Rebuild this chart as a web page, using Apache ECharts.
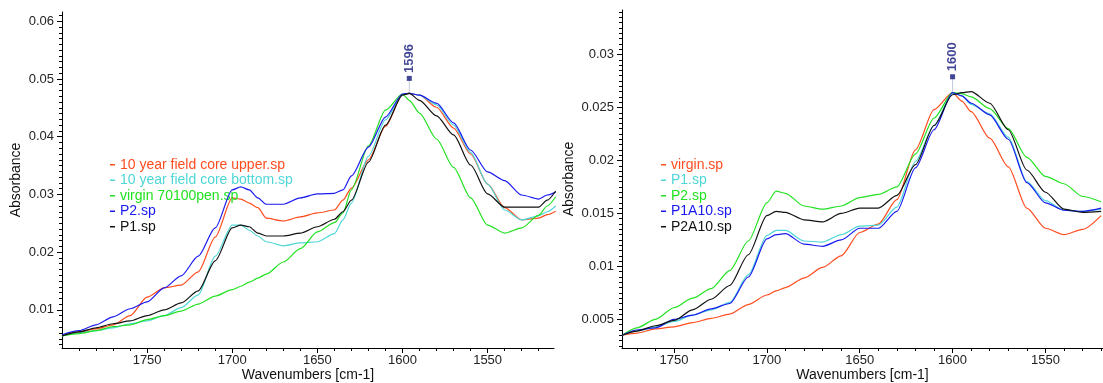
<!DOCTYPE html>
<html>
<head>
<meta charset="utf-8">
<script src="https://cdn.jsdelivr.net/npm/echarts@6/dist/echarts.min.js"></script>
<style>
html,body{margin:0;padding:0;background:#fff;}
#chart{width:1103px;height:383px;}
</style>
</head>
<body>
<div id="chart"></div>
<script>
// ---------- Left panel data ----------
const leftX = [1800,1790,1780,1770,1760,1750,1740,1730,1720,1710,1700,1695,1690,1685,1680,1670,1660,1650,1640,1635,1630,1620,1610,1600,1596,1590,1580,1570,1560,1550,1540,1530,1520,1515,1510];
const leftNames = ['10 year field core upper.sp','10 year field core bottom.sp','virgin 70100pen.sp','P2.sp','P1.sp'];
const leftUpper  = [0.0055,0.0062,0.0067,0.0074,0.0090,0.0122,0.0138,0.0143,0.0166,0.0226,0.0294,0.0292,0.0285,0.0277,0.0259,0.0254,0.0261,0.0268,0.0273,0.0290,0.0311,0.0360,0.0418,0.0473,0.0475,0.0472,0.0451,0.0415,0.0370,0.0318,0.0277,0.0256,0.0259,0.0265,0.0271];
const leftBottom = [0.0055,0.0060,0.0064,0.0069,0.0076,0.0081,0.0090,0.0104,0.0126,0.0193,0.0247,0.0247,0.0238,0.0228,0.0218,0.0211,0.0216,0.0218,0.0232,0.0256,0.0285,0.0366,0.0429,0.0473,0.0475,0.0472,0.0455,0.0420,0.0373,0.0318,0.0273,0.0256,0.0263,0.0270,0.0280];
const leftVirgin = [0.0055,0.0059,0.0064,0.0071,0.0074,0.0083,0.0090,0.0098,0.0110,0.0124,0.0135,0.0141,0.0148,0.0155,0.0162,0.0183,0.0206,0.0235,0.0251,0.0268,0.0308,0.0384,0.0446,0.0474,0.0463,0.0441,0.0396,0.0347,0.0294,0.0247,0.0233,0.0242,0.0264,0.0280,0.0296];
const leftP2     = [0.0057,0.0064,0.0074,0.0088,0.0102,0.0114,0.0138,0.0159,0.0193,0.0242,0.0308,0.0313,0.0308,0.0294,0.0283,0.0283,0.0294,0.0301,0.0302,0.0308,0.0332,0.0382,0.0434,0.0474,0.0475,0.0472,0.0458,0.0424,0.0377,0.0339,0.0324,0.0299,0.0292,0.0299,0.0304];
const leftP1     = [0.0055,0.0062,0.0069,0.0076,0.0081,0.0090,0.0100,0.0112,0.0133,0.0185,0.0242,0.0247,0.0244,0.0233,0.0228,0.0228,0.0233,0.0244,0.0257,0.0270,0.0290,0.0356,0.0420,0.0472,0.0475,0.0463,0.0436,0.0403,0.0351,0.0301,0.0278,0.0278,0.0278,0.0290,0.0306];
const leftPeak = {label:'1596', x:1596, y:0.0475, mark:0.0501};
const leftYTicks = [0.01,0.02,0.03,0.04,0.05,0.06];
const leftXTicks = [1750,1700,1650,1600,1550];

// ---------- Right panel data ----------
const rightX = [1778,1770,1760,1750,1740,1730,1720,1710,1700,1695,1690,1680,1670,1660,1650,1640,1630,1620,1610,1600,1595,1590,1580,1570,1560,1550,1540,1530,1520];
const rightNames = ['virgin.sp','P1.sp','P2.sp','P1A10.sp','P2A10.sp'];
const rightVirgin = [0.0035,0.0037,0.0041,0.0043,0.0047,0.0051,0.0055,0.0064,0.0073,0.0077,0.0080,0.0089,0.0099,0.0110,0.0132,0.0140,0.0163,0.0210,0.0248,0.0264,0.0256,0.0246,0.0221,0.0194,0.0155,0.0136,0.0130,0.0135,0.0148];
const rightP1     = [0.0035,0.0039,0.0043,0.0048,0.0054,0.0059,0.0066,0.0092,0.0129,0.0134,0.0134,0.0124,0.0123,0.0130,0.0138,0.0139,0.0156,0.0199,0.0233,0.0264,0.0261,0.0253,0.0244,0.0222,0.0180,0.0162,0.0153,0.0152,0.0154];
const rightP2     = [0.0035,0.0042,0.0050,0.0061,0.0070,0.0079,0.0096,0.0124,0.0160,0.0171,0.0169,0.0157,0.0154,0.0157,0.0165,0.0168,0.0175,0.0206,0.0240,0.0264,0.0263,0.0260,0.0249,0.0230,0.0203,0.0185,0.0178,0.0166,0.0161];
const rightP1A10  = [0.0035,0.0040,0.0042,0.0050,0.0054,0.0060,0.0065,0.0090,0.0126,0.0130,0.0131,0.0121,0.0119,0.0125,0.0136,0.0136,0.0152,0.0193,0.0229,0.0264,0.0261,0.0254,0.0243,0.0220,0.0179,0.0160,0.0153,0.0152,0.0155];
const rightP2A10  = [0.0035,0.0039,0.0044,0.0049,0.0059,0.0069,0.0082,0.0111,0.0148,0.0152,0.0151,0.0144,0.0142,0.0150,0.0155,0.0155,0.0167,0.0196,0.0233,0.0262,0.0264,0.0265,0.0254,0.0229,0.0191,0.0170,0.0154,0.0151,0.0152];
const rightPeak = {label:'1600', x:1600, y:0.0264, mark:0.0279};
const rightYTicks = [0.005,0.01,0.015,0.02,0.025,0.03];
const rightXTicks = [1750,1700,1650,1600,1550];

// ---------- styling ----------
const FONT = 'Liberation Sans, Arial, sans-serif';
const leftColors  = ['#ff4d1f','#4fd6d6','#22e222','#1a1af0','#111111'];
const rightColors = ['#ff4d1f','#4fd6d6','#22e222','#1a1af0','#111111'];
const NAVY = '#14197a';

function zip(xs, ys){ return xs.map((x,i)=>[x, ys[i]]); }
function range(a, b, step, scale){ const out=[]; for(let i=a;i<=b;i+=step){ out.push(Math.round(i)/scale); } return out; }

const leftMinorX = range(1520,1790,10,1);
const rightMinorX = range(1520,1770,10,1);
const leftMinorY = range(4,61,1,1000);
const rightMinorY = range(25,340,5,10000);

function mainX(grid, min, max, ticks, name){
  return {type:'value', gridIndex:grid, inverse:true, min:min, max:max, position:'bottom',
    name:name, nameLocation:'middle', nameGap:20, nameMoveOverlap:false,
    nameTextStyle:{fontFamily:FONT,fontSize:14,color:'#111'},
    axisLine:{show:true,onZero:false,lineStyle:{color:'#000',width:1}},
    axisTick:{show:true,customValues:ticks,length:5,lineStyle:{color:'#000'}},
    axisLabel:{show:true,customValues:ticks,fontFamily:FONT,fontSize:13,color:'#222',margin:6,
      formatter:(v)=>String(v)},
    splitLine:{show:false}};
}
function minorX(grid, min, max, ticks){
  return {type:'value', gridIndex:grid, inverse:true, min:min, max:max, position:'bottom',
    axisLine:{show:false}, axisLabel:{show:false}, splitLine:{show:false},
    axisTick:{show:true,customValues:ticks,length:3,lineStyle:{color:'#000'}}};
}
function mainY(grid, min, max, ticks, gap){
  return {type:'value', gridIndex:grid, min:min, max:max, position:'left',
    name:'Absorbance', nameLocation:'middle', nameGap:gap, nameRotate:90, nameMoveOverlap:false,
    nameTextStyle:{fontFamily:FONT,fontSize:14,color:'#111'},
    axisLine:{show:true,onZero:false,lineStyle:{color:'#000',width:1}},
    axisTick:{show:true,customValues:ticks,length:5,lineStyle:{color:'#000'}},
    axisLabel:{show:true,customValues:ticks,fontFamily:FONT,fontSize:13,color:'#222',margin:8,
      formatter:(v)=>String(+v.toFixed(4))},
    splitLine:{show:false}};
}
function minorY(grid, min, max, ticks){
  return {type:'value', gridIndex:grid, min:min, max:max, position:'left',
    axisLine:{show:false}, axisLabel:{show:false}, splitLine:{show:false},
    axisTick:{show:true,customValues:ticks,length:3,lineStyle:{color:'#000'}}};
}

const series = [];
const leftData = [leftUpper,leftBottom,leftVirgin,leftP2,leftP1];
leftData.forEach((d,i)=>{
  series.push({type:'line', name:leftNames[i], xAxisIndex:0, yAxisIndex:0, data:zip(leftX,d),
    symbol:'none', showSymbol:false, smooth:0.25, smoothMonotone:'x',
    lineStyle:{color:leftColors[i],width:1.2}, itemStyle:{color:leftColors[i]}, z:2+i});
});
const rightData = [rightVirgin,rightP1,rightP2,rightP1A10,rightP2A10];
rightData.forEach((d,i)=>{
  series.push({type:'line', name:rightNames[i], xAxisIndex:2, yAxisIndex:2, data:zip(rightX,d),
    symbol:'none', showSymbol:false, smooth:0.25, smoothMonotone:'x',
    lineStyle:{color:rightColors[i],width:1.2}, itemStyle:{color:rightColors[i]}, z:2+i});
});
function peakSeries(p, xi, yi){
  series.push({type:'line', name:'peakline'+p.label, xAxisIndex:xi, yAxisIndex:yi,
    data:[[p.x,p.y],[p.x,p.mark]], symbol:'none', lineStyle:{color:'#c4c8de',width:1}, z:1});
  series.push({type:'scatter', name:'peak'+p.label, xAxisIndex:xi, yAxisIndex:yi,
    data:[[p.x,p.mark]], symbol:'rect', symbolSize:5, itemStyle:{color:NAVY}, z:10,
    label:{show:true, formatter:p.label, position:'top', distance:3, rotate:90, align:'left', verticalAlign:'middle',
      fontFamily:FONT, fontWeight:'bold', fontSize:13, color:NAVY}});
}
peakSeries(leftPeak,0,0);
peakSeries(rightPeak,2,2);

function legendFor(names, colors, left){
  return {show:true, orient:'vertical', left:left, top:157, icon:'rect', itemWidth:5, itemHeight:1.5, itemGap:0,
    selectedMode:false, padding:0,
    textStyle:{fontFamily:FONT, fontSize:14, lineHeight:15.5},
    data:names.map((n,i)=>({name:n, itemStyle:{color:colors[i]}, textStyle:{color:colors[i]}}))};
}

const option = {
  animation:false,
  backgroundColor:'#fff',
  grid:[{left:62, top:12, width:492, height:336, containLabel:false, outerBoundsMode:'none'},
        {left:622, top:10, width:481, height:338, containLabel:false, outerBoundsMode:'none'}],
  xAxis:[mainX(0,1511,1800,leftXTicks,'Wavenumbers [cm-1]'), minorX(0,1511,1800,leftMinorX),
         mainX(1,1519,1778,rightXTicks,'Wavenumbers [cm-1]'), minorX(1,1519,1778,rightMinorX)],
  yAxis:[mainY(0,0.0034,0.0616,leftYTicks,39), minorY(0,0.0034,0.0616,leftMinorY),
         mainY(1,0.0023,0.0342,rightYTicks,46), minorY(1,0.0023,0.0342,rightMinorY)],
  legend:[legendFor(leftNames,leftColors,110), legendFor(rightNames,rightColors,661)],
  series:series
};
const chart = echarts.init(document.getElementById('chart'), null, {renderer:'canvas'});
chart.setOption(option);
</script>
</body>
</html>
